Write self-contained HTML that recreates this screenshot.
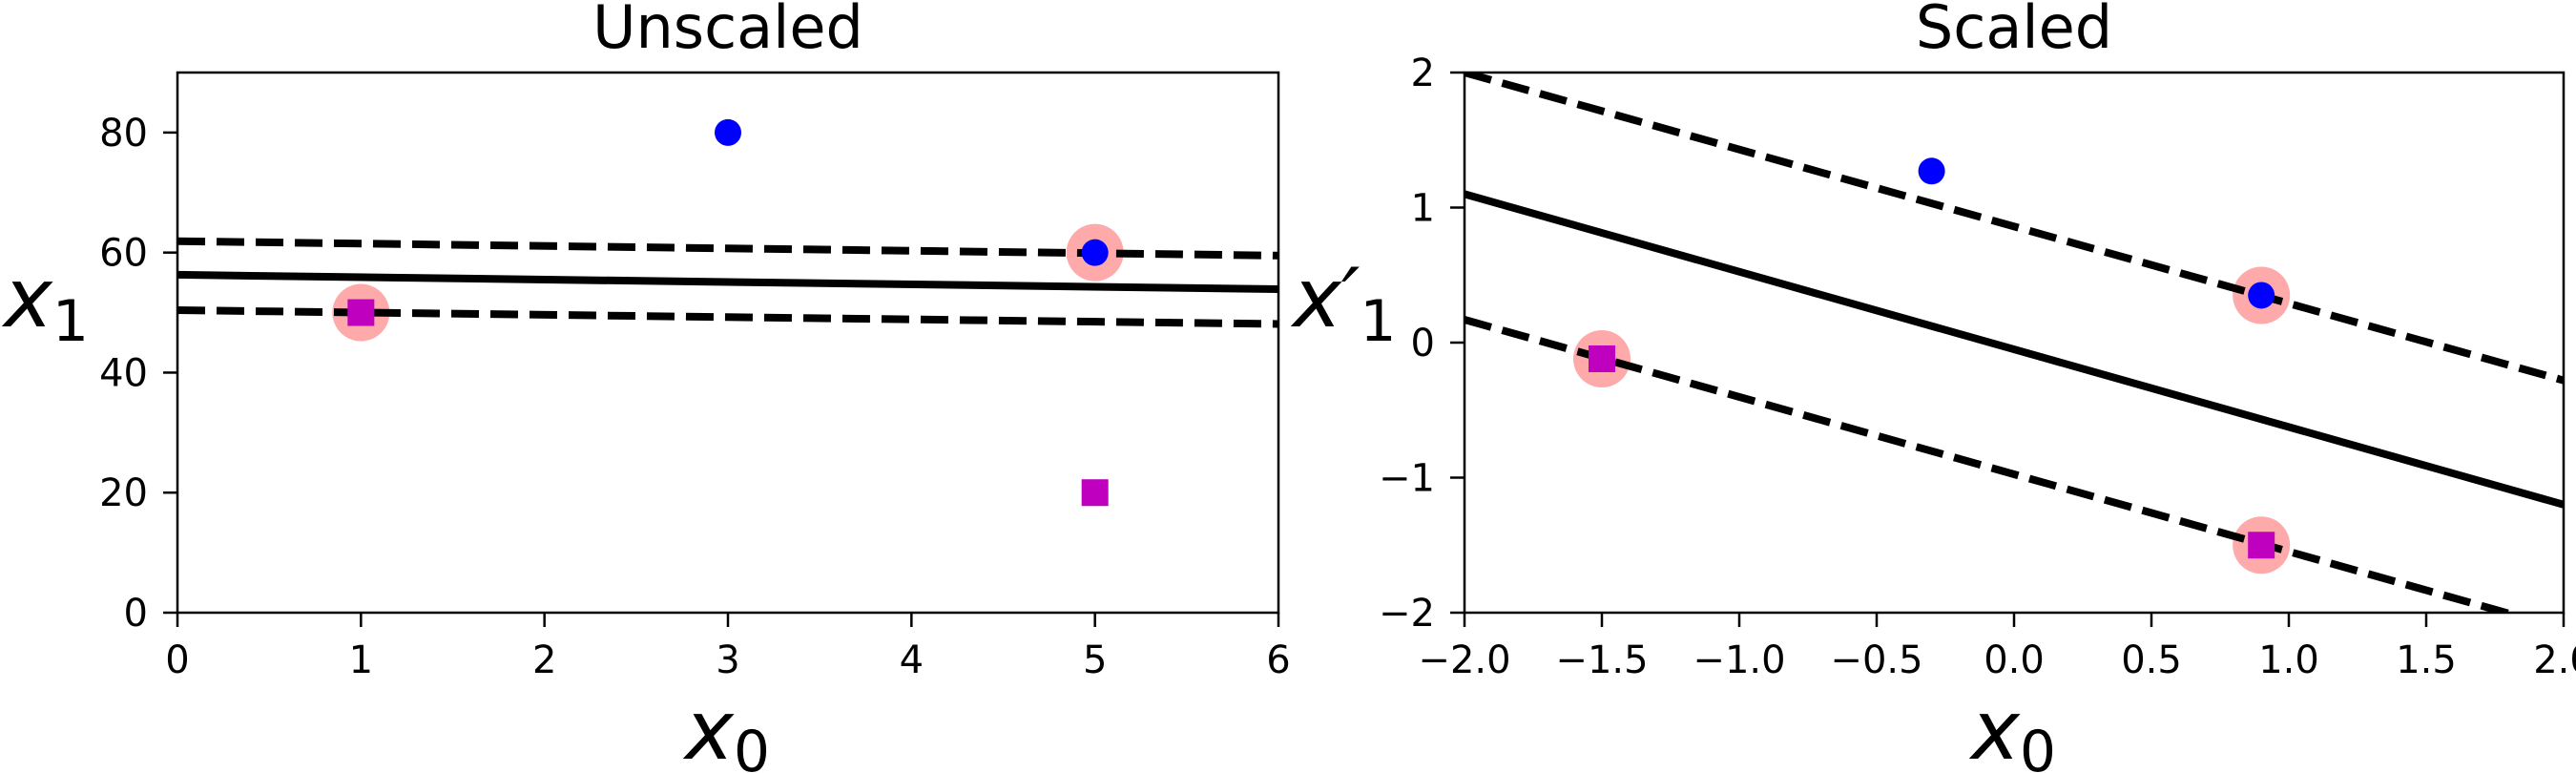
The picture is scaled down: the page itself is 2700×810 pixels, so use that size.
<!DOCTYPE html>
<html><head><meta charset="utf-8"><style>
html,body{margin:0;padding:0;background:#fff;}
svg{display:block;font-family:"DejaVu Sans","Liberation Sans",sans-serif;}
</style></head><body>
<svg id="fig" width="2700" height="810" viewBox="0 0 2700 810"></svg>
<script>
// ---- Data: Unscaled panel ----
const leftCircles = [[3,80],[5,60]];
const leftSquares = [[1,50],[5,20]];
const leftSupport = [[1,50],[5,60]];
const leftSolid = [[0,56.3],[6,53.9]];
const leftUpper = [[0,61.9],[6,59.5]];
const leftLower = [[0,50.4],[6,48.1]];
const leftXTicks = [0,1,2,3,4,5,6];
const leftXTickLabels = ["0","1","2","3","4","5","6"];
const leftYTicks = [0,20,40,60,80];
const leftYTickLabels = ["0","20","40","60","80"];
// ---- Data: Scaled panel ----
const rightCircles = [[-0.3,1.27],[0.9,0.35]];
const rightSquares = [[-1.5,-0.12],[0.9,-1.5]];
const rightSupport = [[-1.5,-0.12],[0.9,0.35],[0.9,-1.5]];
const rightSolid = [[-2,1.1],[2,-1.2]];
const rightUpper = [[-2,2.0],[2,-0.28]];
const rightLower = [[-2,0.17],[2,-2.12]];
const rightXTicks = [-2,-1.5,-1,-0.5,0,0.5,1,1.5,2];
const rightXTickLabels = ["\u22122.0","\u22121.5","\u22121.0","\u22120.5","0.0","0.5","1.0","1.5","2.0"];
const rightYTicks = [-2,-1,0,1,2];
const rightYTickLabels = ["\u22122","\u22121","0","1","2"];

const NS="http://www.w3.org/2000/svg";
const svg=document.getElementById('fig');
function mk(tag,attrs,parent){const e=document.createElementNS(NS,tag);for(const k in attrs)e.setAttribute(k,attrs[k]);(parent||svg).appendChild(e);return e;}

function panel(o){
  const g=mk('g',{});
  
  
  const sx=v=>o.x0+(v-o.xmin)/(o.xmax-o.xmin)*(o.x1-o.x0);
  const sy=v=>o.y1-(v-o.ymin)/(o.ymax-o.ymin)*(o.y1-o.y0);
  const cid='clip-'+o.name;
  const cp=mk('clipPath',{id:cid},g);
  mk('rect',{x:o.x0,y:o.y0,width:o.x1-o.x0,height:o.y1-o.y0},cp);
  const plot=mk('g',{'clip-path':'url(#'+cid+')'},g);
  o.support.forEach(p=>{
    const c=mk('circle',{cx:sx(p[0]),cy:sy(p[1]),r:30,fill:'#ffaaaa'},plot);
    
    
  });
  const line=(pts,dash,nm)=>{
    const l=mk('line',{x1:sx(pts[0][0]),y1:sy(pts[0][1]),x2:sx(pts[1][0]),y2:sy(pts[1][1]),stroke:'#000','stroke-width':8},plot);
    if(dash)l.setAttribute('stroke-dasharray','29 12');
    
    
  };
  line(o.solid,false,'decision-boundary');
  line(o.upper,true,'margin-upper');
  line(o.lower,true,'margin-lower');
  o.circles.forEach(p=>{
    const c=mk('circle',{cx:sx(p[0]),cy:sy(p[1]),r:14,fill:'#0000ff'},plot);
    
    
  });
  o.squares.forEach(p=>{
    const r=mk('rect',{x:sx(p[0])-14,y:sy(p[1])-14,width:28,height:28,fill:'#bf00bf'},plot);
    
    
  });
  const fr=mk('rect',{x:o.x0,y:o.y0,width:o.x1-o.x0,height:o.y1-o.y0,fill:'none',stroke:'#000','stroke-width':2.5},g);
  
  
  o.xt.forEach((v,i)=>{
    const x=sx(v);
    mk('line',{x1:x,y1:o.y1,x2:x,y2:o.y1+15,stroke:'#000','stroke-width':2.5},g);
    const t=mk('text',{x:x,y:705,'font-size':40,'text-anchor':'middle',fill:'#000'},g);
    t.textContent=o.xtl[i];
    
    
  });
  o.yt.forEach((v,i)=>{
    const y=sy(v);
    mk('line',{x1:o.x0-15,y1:y,x2:o.x0,y2:y,stroke:'#000','stroke-width':2.5},g);
    const t=mk('text',{x:o.x0-31,y:y+14,'font-size':40,'text-anchor':'end',fill:'#000'},g);
    t.textContent=o.ytl[i];
    
    
  });
  const ti=mk('text',{x:(o.x0+o.x1)/2,y:50,'font-size':62,'text-anchor':'middle',fill:'#000'},g);
  ti.textContent=o.title;
  
  
  const xl=mk('text',{x:(o.x0+o.x1)/2-45,y:795,'font-size':86,'font-style':'italic',fill:'#000'},g);
  
  
  xl.appendChild(document.createTextNode('x'));
  const xs=mk('tspan',{'font-size':60,'font-style':'normal',dy:13},xl); xs.textContent='0';
  const yl=mk('text',{x:o.ylx,y:342,'font-size':86,'font-style':'italic',fill:'#000'},g);
  
  
  yl.appendChild(document.createTextNode(o.ylabel));
  const ys=mk('tspan',{'font-size':60,'font-style':'normal',dy:15},yl); ys.textContent='1';
}

panel({name:'unscaled-panel',title:'Unscaled',x0:186,x1:1340,y0:76,y1:642,xmin:0,xmax:6,ymin:0,ymax:90,
  circles:leftCircles,squares:leftSquares,support:leftSupport,solid:leftSolid,upper:leftUpper,lower:leftLower,
  xt:leftXTicks,xtl:leftXTickLabels,yt:leftYTicks,ytl:leftYTickLabels,ylabel:'x',ylx:4});
panel({name:'scaled-panel',title:'Scaled',x0:1535,x1:2687,y0:76,y1:642,xmin:-2,xmax:2,ymin:-2,ymax:2,
  circles:rightCircles,squares:rightSquares,support:rightSupport,solid:rightSolid,upper:rightUpper,lower:rightLower,
  xt:rightXTicks,xtl:rightXTickLabels,yt:rightYTicks,ytl:rightYTickLabels,ylabel:'x\u2032',ylx:1355});
</script>
</body></html>
